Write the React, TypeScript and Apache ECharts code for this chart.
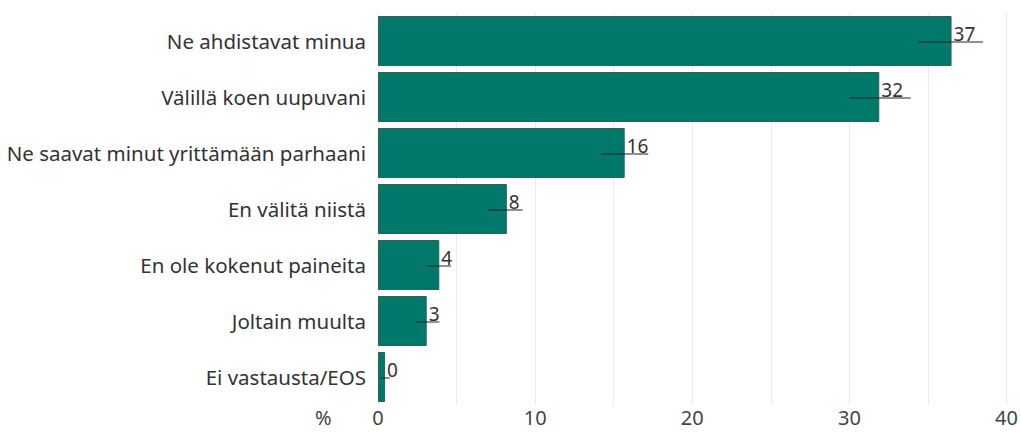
import React, { useEffect, useRef } from "react";
import * as echarts from "echarts";

const categories = [
  "Ne ahdistavat minua",
  "Välillä koen uupuvani",
  "Ne saavat minut yrittämään parhaani",
  "En välitä niistä",
  "En ole kokenut paineita",
  "Joltain muulta",
  "Ei vastausta/EOS",
];
const values = [36.5, 31.9, 15.7, 8.2, 3.9, 3.1, 0.45];
const errLow = [34.4, 30.0, 14.2, 7.0, 3.15, 2.4, 0.2];
const errHigh = [38.5, 33.9, 17.2, 9.2, 4.65, 3.9, 0.75];
const labels = ["37", "32", "16", "8", "4", "3", "0"];
const xTicks = [0, 10, 20, 30, 40];

const FONT = "Noto Sans";

export default function App() {
  const ref = useRef<HTMLDivElement>(null);
  useEffect(() => {
    const chart = echarts.init(ref.current!, null, { renderer: "svg" });
    chart.setOption({
      animation: false,
      grid: { left: 378, right: 13, top: 13, bottom: 27, containLabel: false },
      xAxis: {
        type: "value",
        min: 0,
        max: 40,
        interval: 5,
        axisLine: { show: false },
        axisTick: { show: false },
        splitLine: { show: true, lineStyle: { color: "#ebebeb", width: 1 } },
        axisLabel: {
          color: "#444",
          fontSize: 20,
          fontFamily: FONT,
          margin: 2,
          formatter: (v: number) => (xTicks.includes(v) ? String(v) : ""),
        },
      },
      yAxis: {
        type: "category",
        data: categories,
        inverse: true,
        axisLine: { show: false },
        axisTick: { show: false },
        axisLabel: { color: "#333", fontSize: 20.5, fontFamily: FONT, margin: 12 },
      },
      graphic: [
        {
          type: "text",
          left: 315,
          top: 407,
          style: { text: "%", fill: "#444", fontSize: 20, fontFamily: FONT },
        },
      ],
      series: [
        {
          type: "bar",
          data: values,
          barWidth: 50,
          itemStyle: { color: "#00796B", borderColor: "#2f5f55", borderWidth: 1 },
          label: {
            show: true,
            position: ["100%", "50%"],
            align: "left",
            verticalAlign: "bottom",
            offset: [2, 2],
            color: "#333",
            fontSize: 19,
            fontFamily: FONT,
            formatter: (p: any) => labels[p.dataIndex],
          },
        },
        {
          type: "custom",
          data: categories.map((_, i) => [i, errLow[i], errHigh[i]]),
          encode: { x: [1, 2], y: 0 },
          renderItem: (params: any, api: any) => {
            const i = api.value(0);
            const a = api.coord([api.value(1), i]);
            const b = api.coord([api.value(2), i]);
            return {
              type: "line",
              shape: { x1: a[0], y1: a[1] + 1, x2: b[0], y2: b[1] + 1 },
              style: { stroke: "#222", lineWidth: 1 },
            };
          },
          z: 5,
        },
      ],
    });
    return () => chart.dispose();
  }, []);
  return (
    <div
      ref={ref}
      style={{ position: "fixed", left: 0, top: 0, width: 1021, height: 432, background: "#fff" }}
    />
  );
}
